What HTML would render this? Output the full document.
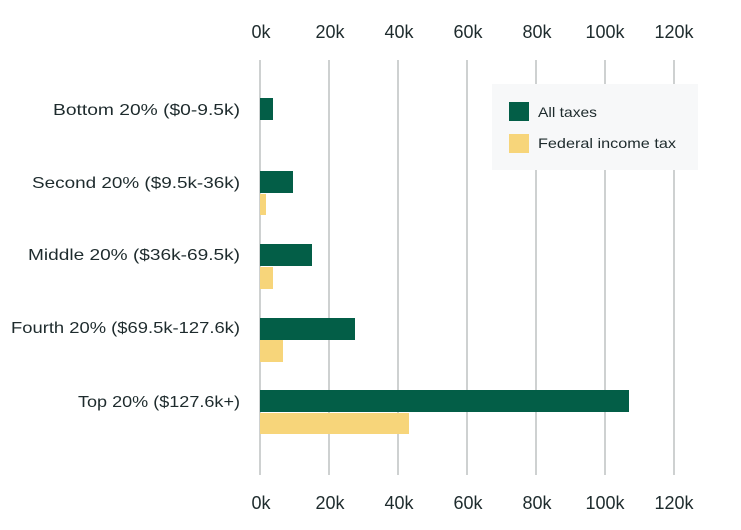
<!DOCTYPE html>
<html><head><style>body{margin:0;background:#fff}svg{display:block}</style></head>
<body>
<svg width="741" height="530" xmlns="http://www.w3.org/2000/svg" font-family="Liberation Sans, sans-serif">
<g stroke="#b3b8b8" stroke-width="1.3">
<line x1="260" y1="60" x2="260" y2="475"/><line x1="329" y1="60" x2="329" y2="475"/>
<line x1="398" y1="60" x2="398" y2="475"/><line x1="467" y1="60" x2="467" y2="475"/>
<line x1="536" y1="60" x2="536" y2="475"/><line x1="605" y1="60" x2="605" y2="475"/>
<line x1="674" y1="60" x2="674" y2="475"/>
</g>
<g fill="#1e2b2d" font-size="18" text-anchor="middle">
<text x="261" y="38">0k</text><text x="330" y="38">20k</text><text x="399" y="38">40k</text><text x="468" y="38">60k</text><text x="537" y="38">80k</text><text x="605" y="38">100k</text><text x="674" y="38">120k</text>
<text x="261" y="509">0k</text><text x="330" y="509">20k</text><text x="399" y="509">40k</text><text x="468" y="509">60k</text><text x="537" y="509">80k</text><text x="605" y="509">100k</text><text x="674" y="509">120k</text>
</g>
<g fill="#1e2b2d" font-size="16" text-anchor="end">
<text x="240" y="115" textLength="187" lengthAdjust="spacingAndGlyphs">Bottom 20% ($0-9.5k)</text>
<text x="240" y="188" textLength="208" lengthAdjust="spacingAndGlyphs">Second 20% ($9.5k-36k)</text>
<text x="240" y="260" textLength="212" lengthAdjust="spacingAndGlyphs">Middle 20% ($36k-69.5k)</text>
<text x="240" y="333" textLength="229" lengthAdjust="spacingAndGlyphs">Fourth 20% ($69.5k-127.6k)</text>
<text x="240" y="407" textLength="162" lengthAdjust="spacingAndGlyphs">Top 20% ($127.6k+)</text>
</g>
<g fill="#035e47">
<rect x="260" y="98" width="13" height="22"/>
<rect x="260" y="171" width="33" height="22"/>
<rect x="260" y="244" width="52" height="22"/>
<rect x="260" y="318" width="95" height="22"/>
<rect x="260" y="390" width="369" height="22"/>
</g>
<g fill="#f7d57a">
<rect x="260" y="194" width="6" height="21"/>
<rect x="260" y="267" width="13" height="22"/>
<rect x="260" y="340" width="23" height="22"/>
<rect x="260" y="413" width="149" height="21"/>
</g>
<rect x="492" y="84" width="206" height="86" fill="#f7f8f9"/>
<rect x="509" y="102" width="20" height="19" fill="#035e47"/>
<rect x="509" y="134" width="20" height="19" fill="#f7d57a"/>
<g fill="#1e2b2d" font-size="14">
<text x="538" y="117" textLength="59" lengthAdjust="spacingAndGlyphs">All taxes</text>
<text x="538" y="148" textLength="138" lengthAdjust="spacingAndGlyphs">Federal income tax</text>
</g>
</svg>
</body></html>
